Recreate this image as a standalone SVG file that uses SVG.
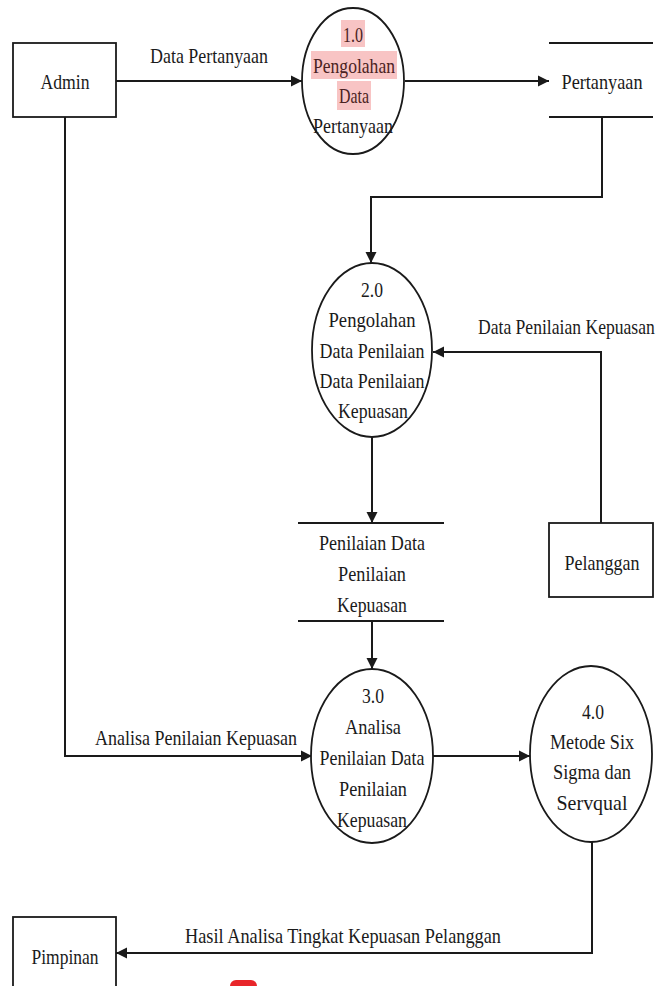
<svg xmlns="http://www.w3.org/2000/svg" width="661" height="986" viewBox="0 0 661 986">
<defs>
<marker id="arr" markerUnits="userSpaceOnUse" markerWidth="12" markerHeight="12" refX="11" refY="6" orient="auto">
<path d="M0,0.5 L11,6 L0,11.5 z" fill="#1a1a1a"/>
</marker>
<style>
text{font-family:"Liberation Serif","Times New Roman",serif;font-size:22px;fill:#1a1a1a;text-anchor:middle}
.lbl{text-anchor:start}
.hl{fill:#f8c4c4}
.ht{fill:#4a2222}
.box{fill:#fff;stroke:#1a1a1a;stroke-width:1.8}
.ell{fill:#fff;stroke:#1a1a1a;stroke-width:1.8}
.st{stroke:#1a1a1a;stroke-width:2;fill:none}
.cn{stroke:#1a1a1a;stroke-width:2;fill:none;marker-end:url(#arr)}
</style>
</defs>
<rect width="661" height="986" fill="#fff"/>

<g id="connectors">
<path class="cn" d="M116,81 H302"/>
<path class="cn" d="M405,81 H549"/>
<path class="cn" d="M602,117 V197 H371 V263"/>
<path class="cn" d="M601,523 V352 H433"/>
<path class="cn" d="M372,437 V523"/>
<path class="cn" d="M372,621 V669"/>
<path class="cn" d="M65,117 V756 H312"/>
<path class="cn" d="M433,756 H530"/>
<path class="cn" d="M592,842 V953 H116"/>
<text class="lbl" x="150" y="63" textLength="118" lengthAdjust="spacingAndGlyphs">Data Pertanyaan</text>
<text class="lbl" transform="translate(478,334) scale(0.8,1)">Data Penilaian Kepuasan</text>
<text class="lbl" x="95" y="745" textLength="202" lengthAdjust="spacingAndGlyphs">Analisa Penilaian Kepuasan</text>
<text class="lbl" x="185" y="943" textLength="316" lengthAdjust="spacingAndGlyphs">Hasil Analisa Tingkat Kepuasan Pelanggan</text>
</g>

<g id="admin">
<rect class="box" x="13" y="43" width="103" height="74"/>
<text x="65" y="89" textLength="49" lengthAdjust="spacingAndGlyphs">Admin</text>
</g>

<g id="p1">
<ellipse class="ell" cx="353" cy="81" rx="51" ry="73"/>
<rect class="hl" x="341" y="20" width="24" height="27"/>
<rect class="hl" x="311" y="51" width="86" height="28"/>
<rect class="hl" x="337" y="81" width="34" height="29"/>
<text class="ht" x="353" y="42" textLength="20" lengthAdjust="spacingAndGlyphs">1.0</text>
<text class="ht" x="354" y="73" textLength="82" lengthAdjust="spacingAndGlyphs">Pengolahan</text>
<text class="ht" x="354" y="103" textLength="30" lengthAdjust="spacingAndGlyphs">Data</text>
<text x="353" y="133" textLength="80" lengthAdjust="spacingAndGlyphs">Pertanyaan</text>
</g>

<g id="ds-pertanyaan">
<line class="st" x1="549" y1="43" x2="653" y2="43"/>
<line class="st" x1="549" y1="117" x2="653" y2="117"/>
<text x="602" y="89" textLength="81" lengthAdjust="spacingAndGlyphs">Pertanyaan</text>
</g>

<g id="p2">
<ellipse class="ell" cx="372" cy="350" rx="60" ry="87"/>
<text x="372" y="297" textLength="22" lengthAdjust="spacingAndGlyphs">2.0</text>
<text x="372" y="327" textLength="87" lengthAdjust="spacingAndGlyphs">Pengolahan</text>
<text x="372" y="358" textLength="105" lengthAdjust="spacingAndGlyphs">Data Penilaian</text>
<text x="372" y="388" textLength="105" lengthAdjust="spacingAndGlyphs">Data Penilaian</text>
<text x="373" y="418" textLength="70" lengthAdjust="spacingAndGlyphs">Kepuasan</text>
</g>

<g id="pelanggan">
<rect class="box" x="549" y="523" width="104" height="74"/>
<text x="602" y="570" textLength="75" lengthAdjust="spacingAndGlyphs">Pelanggan</text>
</g>

<g id="ds-penilaian">
<line class="st" x1="298" y1="523" x2="444" y2="523"/>
<line class="st" x1="298" y1="621" x2="444" y2="621"/>
<text x="372" y="550" textLength="106" lengthAdjust="spacingAndGlyphs">Penilaian Data</text>
<text x="372" y="581" textLength="68" lengthAdjust="spacingAndGlyphs">Penilaian</text>
<text x="372" y="612" textLength="70" lengthAdjust="spacingAndGlyphs">Kepuasan</text>
</g>

<g id="p3">
<ellipse class="ell" cx="372" cy="756" rx="61" ry="87"/>
<text x="373" y="703" textLength="22" lengthAdjust="spacingAndGlyphs">3.0</text>
<text x="373" y="734" textLength="56" lengthAdjust="spacingAndGlyphs">Analisa</text>
<text x="372" y="765" textLength="105" lengthAdjust="spacingAndGlyphs">Penilaian Data</text>
<text x="373" y="796" textLength="68" lengthAdjust="spacingAndGlyphs">Penilaian</text>
<text x="372" y="827" textLength="70" lengthAdjust="spacingAndGlyphs">Kepuasan</text>
</g>

<g id="p4">
<ellipse class="ell" cx="591" cy="754" rx="61" ry="88"/>
<text x="593" y="719" textLength="22" lengthAdjust="spacingAndGlyphs">4.0</text>
<text x="592" y="749" textLength="84" lengthAdjust="spacingAndGlyphs">Metode Six</text>
<text x="592" y="779" textLength="78" lengthAdjust="spacingAndGlyphs">Sigma dan</text>
<text x="592" y="810" textLength="71" lengthAdjust="spacingAndGlyphs">Servqual</text>
</g>

<g id="pimpinan">
<rect class="box" x="13" y="917" width="103" height="80"/>
<text x="65" y="964" textLength="67" lengthAdjust="spacingAndGlyphs">Pimpinan</text>
</g>

<rect x="230" y="980" width="27" height="14" rx="6" fill="#e8262a"/>
</svg>
